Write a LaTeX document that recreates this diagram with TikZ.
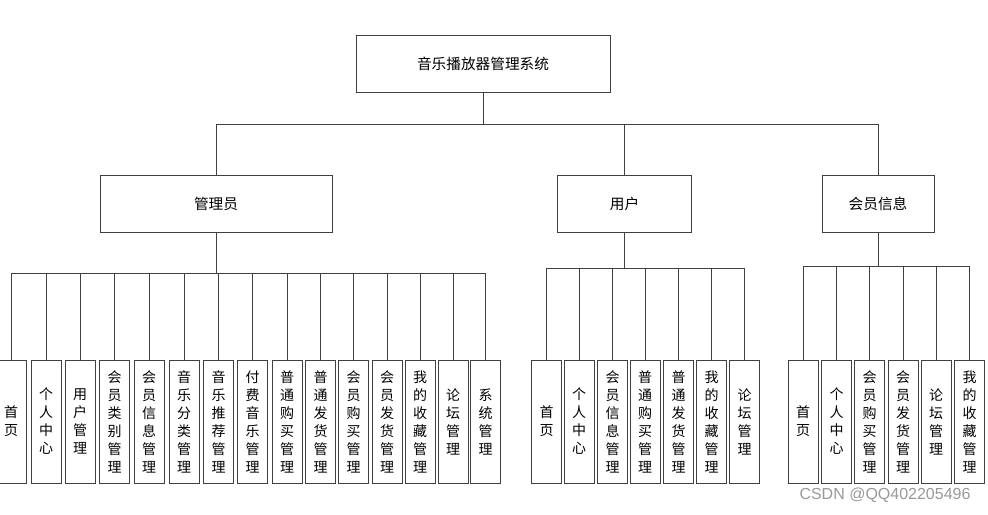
\documentclass[tikz,border=0pt]{standalone}
\usepackage{fontspec}
\setmainfont{Noto Sans CJK SC}
\newfontfamily\markfont{Liberation Sans}
\usetikzlibrary{positioning, calc}
\tikzset{
    sysbox/.style = {rectangle, draw=black!75, line width=0.75pt, minimum width=190.5pt, minimum height=42.75pt, font=\fontsize{11}{13}\selectfont},
    rolebox/.style = {rectangle, draw=black!75, line width=0.75pt, minimum height=42.75pt, font=\fontsize{11}{13}\selectfont},
    leaf/.style = {rectangle, draw=black!75, line width=0.75pt, minimum width=22.5pt, minimum height=92.25pt, inner sep=1pt, align=center, font=\fontsize{10.5}{13.5}\selectfont},
    line/.style = {draw=black!75, line width=0.75pt}
}

\begin{document}
\begin{tikzpicture}[x=0.75pt, y=-0.75pt]
    \useasboundingbox (0,0) rectangle (988,514);

    % System
    \node [sysbox] (sys) at (483,64) {音乐播放器管理系统};

    % Roles
    \node [rolebox, minimum width=174pt] (admin) at (216,203.5) {管理员};
    \node [rolebox, minimum width=101pt] (user) at (624.5,203.5) {用户};
    \node [rolebox, minimum width=84pt] (member) at (878,203.5) {会员信息};

    % Bus points
    \coordinate (top) at (483,124);
    \coordinate (abus) at (216,273);
    \coordinate (ubus) at (624.5,268);
    \coordinate (mbus) at (878,266);

    % Arrows
    \path [line] (sys) -- (top);
    \path [line] (admin) |- (top);
    \path [line] (user) |- (top);
    \path [line] (member) |- (top);
    \path [line] (admin) -- (abus);
    \path [line] (user) -- (ubus);
    \path [line] (member) -- (mbus);

    % Admin functions
    \foreach \x/\t [count=\i] in {11/{首\\页}, 46/{个\\人\\中\\心}, 80/{用\\户\\管\\理},
        114.5/{会\\员\\类\\别\\管\\理}, 149/{会\\员\\信\\息\\管\\理}, 184/{音\\乐\\分\\类\\管\\理},
        218.5/{音\\乐\\推\\荐\\管\\理}, 252.5/{付\\费\\音\\乐\\管\\理}, 287/{普\\通\\购\\买\\管\\理},
        320.5/{普\\通\\发\\货\\管\\理}, 353.5/{会\\员\\购\\买\\管\\理}, 387/{会\\员\\发\\货\\管\\理},
        420/{我\\的\\收\\藏\\管\\理}, 453/{论\\坛\\管\\理}, 485.5/{系\\统\\管\\理}}{
        \node [leaf] (a\i) at (\x,421.5) {\t};
        \path [line] (a\i) |- (abus);
    }

    % User functions
    \foreach \x/\t [count=\i] in {546.5/{首\\页}, 579/{个\\人\\中\\心}, 612.5/{会\\员\\信\\息\\管\\理},
        645/{普\\通\\购\\买\\管\\理}, 678.5/{普\\通\\发\\货\\管\\理}, 711.5/{我\\的\\收\\藏\\管\\理},
        744.5/{论\\坛\\管\\理}}{
        \node [leaf] (u\i) at (\x,421.5) {\t};
        \path [line] (u\i) |- (ubus);
    }

    % Member functions
    \foreach \x/\t [count=\i] in {803/{首\\页}, 836.5/{个\\人\\中\\心}, 869.5/{会\\员\\购\\买\\管\\理},
        903/{会\\员\\发\\货\\管\\理}, 936/{论\\坛\\管\\理}, 969.5/{我\\的\\收\\藏\\管\\理}}{
        \node [leaf] (m\i) at (\x,421.5) {\t};
        \path [line] (m\i) |- (mbus);
    }

    % Watermark
    \node [font=\markfont\fontsize{12}{12}\selectfont, text=black!40] (mark) at (885,495) {CSDN @QQ402205496};
\end{tikzpicture}
\end{document}
